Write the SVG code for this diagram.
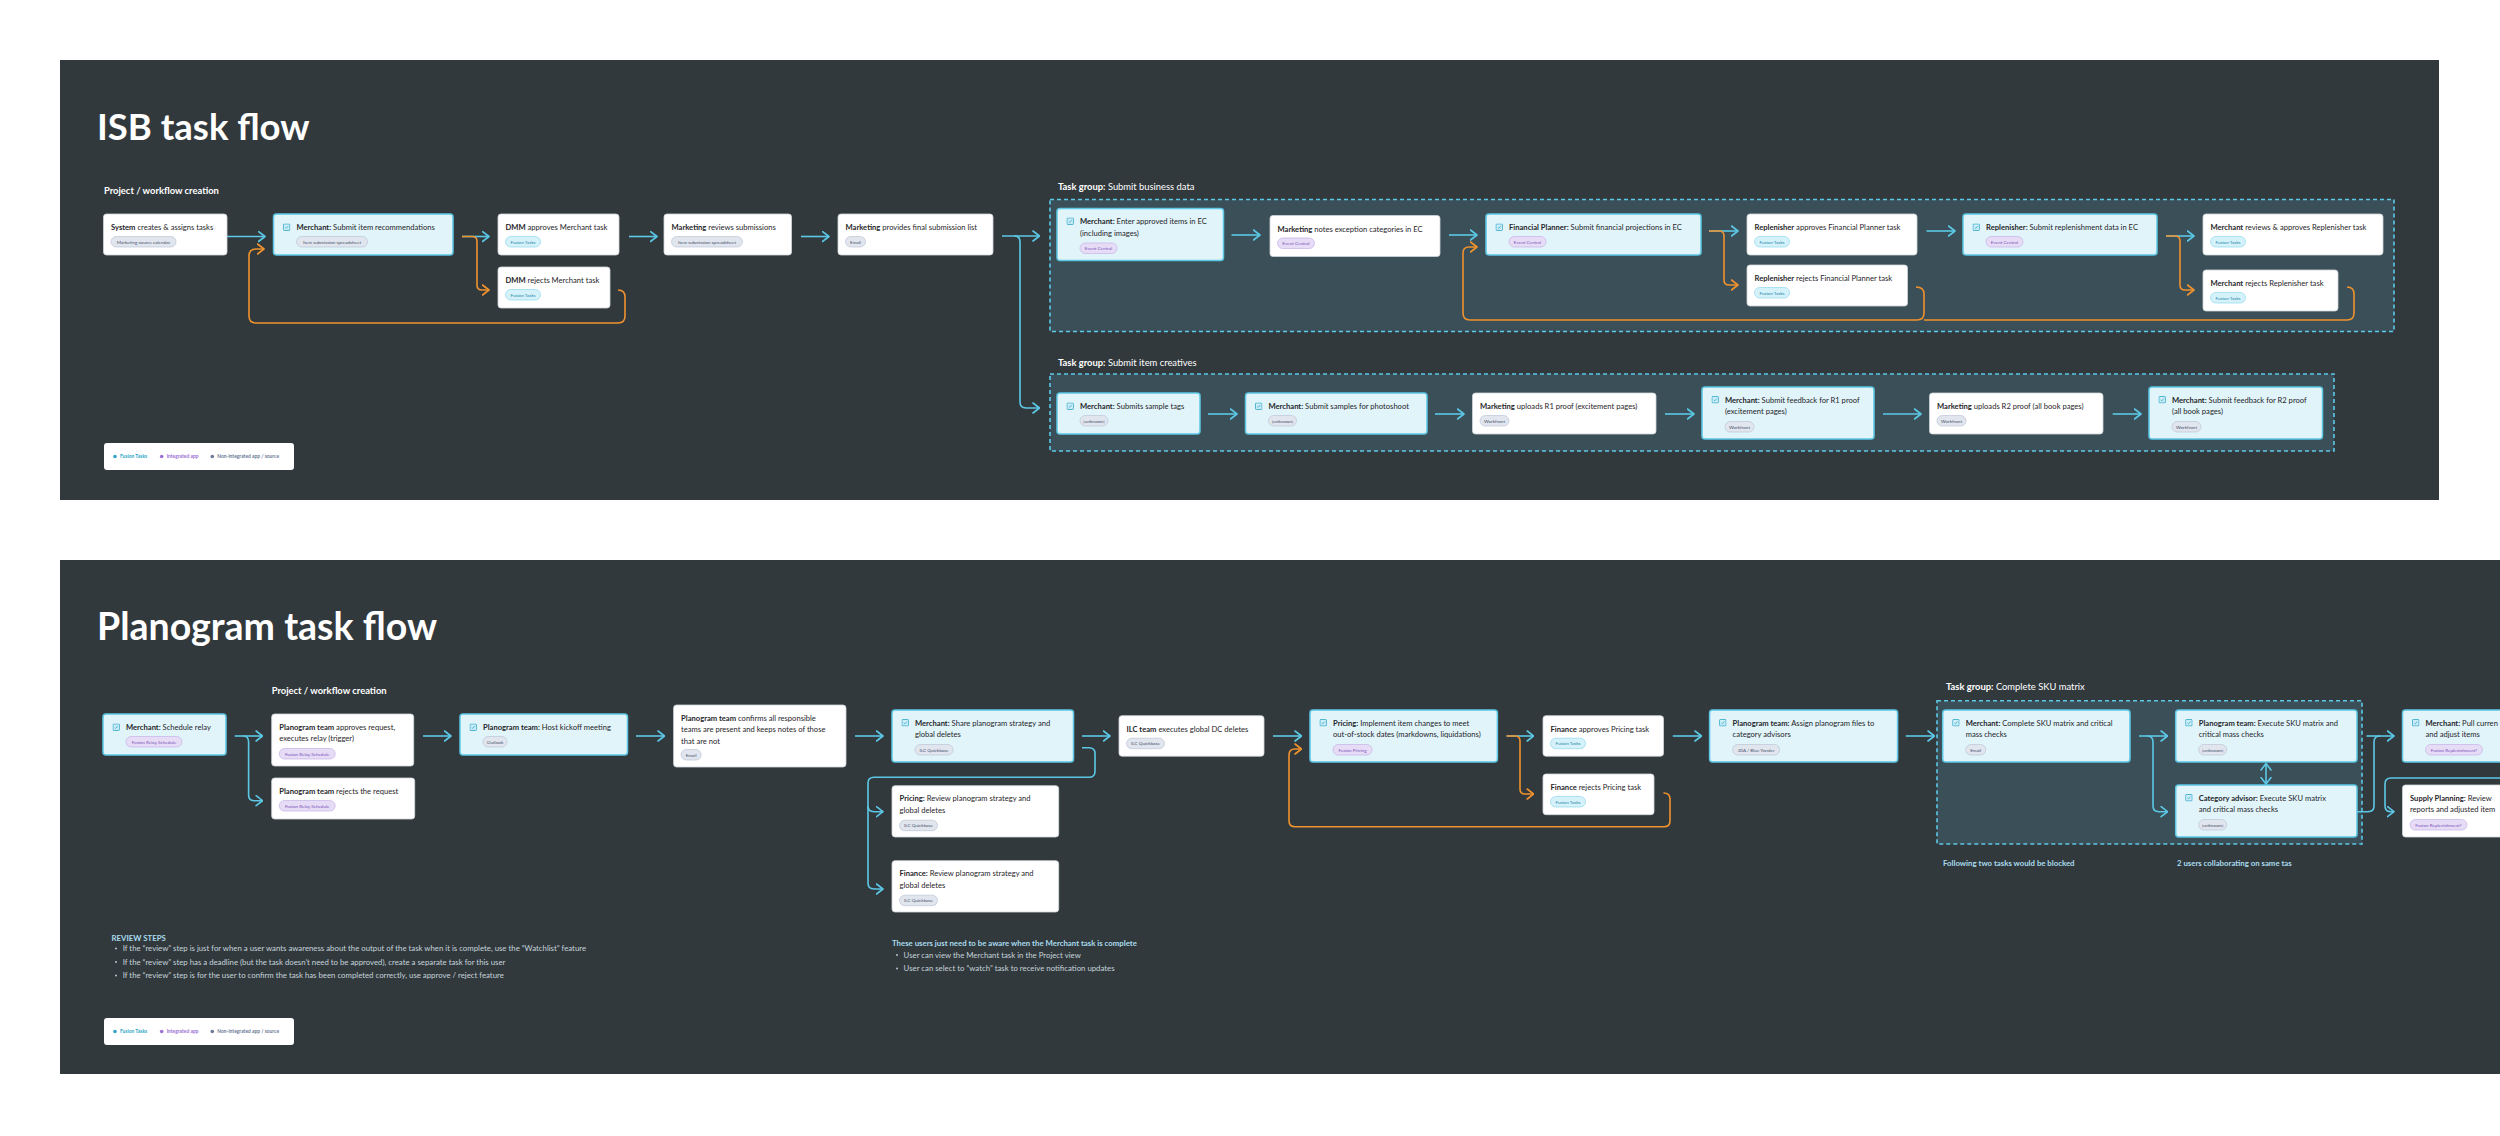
<svg xmlns="http://www.w3.org/2000/svg" xmlns:xlink="http://www.w3.org/1999/xlink" width="2500" height="1136" viewBox="0 0 2500 1136">
<style>
.panel{fill:#32393d}
.grp{fill:#3a4f57;stroke:#5cc8e6;stroke-width:1.6;stroke-dasharray:4 3}
.nw{fill:#ffffff;stroke:#cfd6da;stroke-width:0.8}
.nh{fill:#e1f4fa;stroke:#5cc8e6;stroke-width:1.5}
text{font-family:Lato,"Liberation Sans",sans-serif}
.t{font-size:7.6px;fill:#1f2529}
.b{font-weight:700}
.ttl{font-size:36.5px;font-weight:700;fill:#ffffff}
.ttl2{font-size:37.5px;font-weight:700;fill:#ffffff}
.lbl{font-size:9.4px;fill:#ffffff}
.tg text{font-size:4.6px;text-anchor:middle}
.tF rect{fill:#d5f1fa;stroke:#8fd8ec;stroke-width:0.7}
.tF text{fill:#2689a8}
.tI rect{fill:#e6dcf5;stroke:#c5b1e6;stroke-width:0.7}
.tI text{fill:#7a52bb}
.tN rect{fill:#e1e5ee;stroke:#bcc4d6;stroke-width:0.7}
.tN text{fill:#46516d}
.c{fill:none;stroke:#5cc8e6;stroke-width:1.6;stroke-linejoin:round}
.o{fill:none;stroke:#f0922e;stroke-width:1.6;stroke-linejoin:round}
.note{font-size:7.8px;fill:#c4d3da}
.noteh{font-size:7.8px;font-weight:700;fill:#a9dcee}
.lg text{font-size:4.9px;font-weight:700}
</style>
<defs>
<marker id="ac" viewBox="0 0 8 12" refX="7.5" refY="6" markerWidth="8" markerHeight="12" markerUnits="userSpaceOnUse" orient="auto-start-reverse"><path d="M1,1 L7.5,6 L1,11" fill="none" stroke="#5cc8e6" stroke-width="1.6" stroke-linecap="round" stroke-linejoin="round"/></marker>
<marker id="ao" viewBox="0 0 8 12" refX="7.5" refY="6" markerWidth="8" markerHeight="12" markerUnits="userSpaceOnUse" orient="auto"><path d="M1,1 L7.5,6 L1,11" fill="none" stroke="#f0922e" stroke-width="1.6" stroke-linecap="round" stroke-linejoin="round"/></marker>
<symbol id="chk" viewBox="0 0 8 8" width="7.4" height="7.4"><rect x="0.5" y="0.5" width="7" height="7" rx="0.8" fill="#cdeef8" stroke="#2ea6c8" stroke-width="0.9"/><path d="M2.4,4.2 L3.6,5.3 L5.7,2.7" fill="none" stroke="#2ea6c8" stroke-width="0.8"/></symbol>
</defs>
<rect width="2500" height="1136" fill="#ffffff"/>

<!-- ===== ISB panel ===== -->
<rect class="panel" x="60" y="60" width="2379" height="440"/>
<text class="ttl" x="97" y="140">ISB task flow</text>
<text class="lbl b" x="104" y="194">Project / workflow creation</text>
<rect class="grp" x="1050" y="199.5" width="1344" height="132"/>
<text class="lbl" x="1058" y="190"><tspan class="b">Task group:</tspan> Submit business data</text>
<rect class="grp" x="1050" y="374" width="1284" height="77"/>
<text class="lbl" x="1058" y="366"><tspan class="b">Task group:</tspan> Submit item creatives</text>

<g id="connectors-isb">
<path class="c" d="M227,236.5 H265" marker-end="url(#ac)"/>
<path class="c" d="M462,236.5 H489" marker-end="url(#ac)"/>
<path class="o" d="M462,236.5 H472 Q477,236.5 477,241.5 V285 Q477,290 482,290 H489" marker-end="url(#ao)"/>
<path class="o" d="M618,290 Q625,290 625,297 V316 Q625,323 618,323 H256 Q249,323 249,316 V256 Q249,249 256,249 H264" marker-end="url(#ao)"/>
<path class="c" d="M629,236.5 H657" marker-end="url(#ac)"/>
<path class="c" d="M801,236.5 H829" marker-end="url(#ac)"/>
<path class="c" d="M1002,236 H1039.5" marker-end="url(#ac)"/>
<path class="c" d="M1014,236 Q1020,236 1020,242 V402 Q1020,408 1026,408 H1039.5" marker-end="url(#ac)"/>
<path class="c" d="M1231.5,235 H1260" marker-end="url(#ac)"/>
<path class="c" d="M1449,235 H1477" marker-end="url(#ac)"/>
<path class="c" d="M1709,231 H1738" marker-end="url(#ac)"/>
<path class="o" d="M1709,231 H1719 Q1724,231 1724,236 V280 Q1724,285 1729,285 H1738" marker-end="url(#ao)"/>
<path class="o" d="M1916,287 Q1924,287 1924,294 V313 Q1924,320 1917,320 H1470 Q1463,320 1463,313 V253 Q1463,247 1469,247 H1477" marker-end="url(#ao)"/>
<path class="o" d="M2347,287 Q2354,287 2354,294 V313 Q2354,320 2347,320 H1924"/>
<path class="c" d="M1926.5,231 H1955" marker-end="url(#ac)"/>
<path class="c" d="M2166,236 H2194" marker-end="url(#ac)"/>
<path class="o" d="M2166,236 H2175 Q2180,236 2180,241 V285 Q2180,290 2185,290 H2194" marker-end="url(#ao)"/>
<path class="c" d="M1208,414 H1237" marker-end="url(#ac)"/>
<path class="c" d="M1435,414 H1464" marker-end="url(#ac)"/>
<path class="c" d="M1665,414 H1694" marker-end="url(#ac)"/>
<path class="c" d="M1883,414 H1921" marker-end="url(#ac)"/>
<path class="c" d="M2112.7,414 H2141" marker-end="url(#ac)"/>
</g>

<g id="n1" transform="translate(103.5,214)"><rect class="nw" width="123.5" height="41" rx="3"/><text class="t" x="7.5" y="16"><tspan class="b">System</tspan> creates &amp; assigns tasks</text><g class="tg tN" transform="translate(7.5,22.5)"><rect width="65" height="10.5" rx="5.25"/><text x="32.5" y="7">Marketing source calendar</text></g></g>
<g id="n2" transform="translate(273.5,214)"><rect class="nh" width="179.5" height="41" rx="3"/><use href="#chk" x="9.5" y="9.5"/><text class="t" x="23" y="16"><tspan class="b">Merchant:</tspan> Submit item recommendations</text><g class="tg tN" transform="translate(23,22.5)"><rect width="71" height="10.5" rx="5.25"/><text x="35.5" y="7">Item submission spreadsheet</text></g></g>
<g id="n3" transform="translate(498,214)"><rect class="nw" width="121" height="41" rx="3"/><text class="t" x="7.5" y="16"><tspan class="b">DMM</tspan> approves Merchant task</text><g class="tg tF" transform="translate(7.5,22.5)"><rect width="35" height="10.5" rx="5.25"/><text x="17.5" y="7">Fusion Tasks</text></g></g>
<g id="n4" transform="translate(498,267)"><rect class="nw" width="112" height="41" rx="3"/><text class="t" x="7.5" y="16"><tspan class="b">DMM</tspan> rejects Merchant task</text><g class="tg tF" transform="translate(7.5,22.5)"><rect width="35" height="10.5" rx="5.25"/><text x="17.5" y="7">Fusion Tasks</text></g></g>
<g id="n5" transform="translate(664,214)"><rect class="nw" width="127.5" height="41" rx="3"/><text class="t" x="7.5" y="16"><tspan class="b">Marketing</tspan> reviews submissions</text><g class="tg tN" transform="translate(7.5,22.5)"><rect width="71" height="10.5" rx="5.25"/><text x="35.5" y="7">Item submission spreadsheet</text></g></g>
<g id="n6" transform="translate(838,214)"><rect class="nw" width="155" height="41" rx="3"/><text class="t" x="7.5" y="16"><tspan class="b">Marketing</tspan> provides final submission list</text><g class="tg tN" transform="translate(7.5,22.5)"><rect width="20" height="10.5" rx="5.25"/><text x="10" y="7">Email</text></g></g>
<g id="n7" transform="translate(1057,208.5)"><rect class="nh" width="166.5" height="52" rx="3"/><use href="#chk" x="9.5" y="9"/><text class="t" x="23" y="15.5"><tspan class="b">Merchant:</tspan> Enter approved items in EC</text><text class="t" x="23" y="27">(including images)</text><g class="tg tI" transform="translate(23,34.5)"><rect width="37" height="10.5" rx="5.25"/><text x="18.5" y="7">Event Central</text></g></g>
<g id="n8" transform="translate(1270,215.5)"><rect class="nw" width="170" height="41" rx="3"/><text class="t" x="7.5" y="16"><tspan class="b">Marketing</tspan> notes exception categories in EC</text><g class="tg tI" transform="translate(7.5,22.5)"><rect width="37" height="10.5" rx="5.25"/><text x="18.5" y="7">Event Central</text></g></g>
<g id="n9" transform="translate(1486,214)"><rect class="nh" width="215" height="41" rx="3"/><use href="#chk" x="9.5" y="9.5"/><text class="t" x="23" y="16"><tspan class="b">Financial Planner:</tspan> Submit financial projections in EC</text><g class="tg tI" transform="translate(23,22.5)"><rect width="37" height="10.5" rx="5.25"/><text x="18.5" y="7">Event Central</text></g></g>
<g id="n10" transform="translate(1747,214)"><rect class="nw" width="170" height="41" rx="3"/><text class="t" x="7.5" y="16"><tspan class="b">Replenisher</tspan> approves Financial Planner task</text><g class="tg tF" transform="translate(7.5,22.5)"><rect width="35" height="10.5" rx="5.25"/><text x="17.5" y="7">Fusion Tasks</text></g></g>
<g id="n11" transform="translate(1747,265)"><rect class="nw" width="160.5" height="41" rx="3"/><text class="t" x="7.5" y="16"><tspan class="b">Replenisher</tspan> rejects Financial Planner task</text><g class="tg tF" transform="translate(7.5,22.5)"><rect width="35" height="10.5" rx="5.25"/><text x="17.5" y="7">Fusion Tasks</text></g></g>
<g id="n12" transform="translate(1963,214)"><rect class="nh" width="194" height="41" rx="3"/><use href="#chk" x="9.5" y="9.5"/><text class="t" x="23" y="16"><tspan class="b">Replenisher:</tspan> Submit replenishment data in EC</text><g class="tg tI" transform="translate(23,22.5)"><rect width="37" height="10.5" rx="5.25"/><text x="18.5" y="7">Event Central</text></g></g>
<g id="n13" transform="translate(2203,214)"><rect class="nw" width="180" height="41" rx="3"/><text class="t" x="7.5" y="16"><tspan class="b">Merchant</tspan> reviews &amp; approves Replenisher task</text><g class="tg tF" transform="translate(7.5,22.5)"><rect width="35" height="10.5" rx="5.25"/><text x="17.5" y="7">Fusion Tasks</text></g></g>
<g id="n14" transform="translate(2203,270)"><rect class="nw" width="135" height="41" rx="3"/><text class="t" x="7.5" y="16"><tspan class="b">Merchant</tspan> rejects Replenisher task</text><g class="tg tF" transform="translate(7.5,22.5)"><rect width="35" height="10.5" rx="5.25"/><text x="17.5" y="7">Fusion Tasks</text></g></g>
<g id="n15" transform="translate(1057,393)"><rect class="nh" width="143" height="41" rx="3"/><use href="#chk" x="9.5" y="9.5"/><text class="t" x="23" y="16"><tspan class="b">Merchant:</tspan> Submits sample tags</text><g class="tg tN" transform="translate(23,22.5)"><rect width="28" height="10.5" rx="5.25"/><text x="14" y="7">[unknown]</text></g></g>
<g id="n16" transform="translate(1245.5,393)"><rect class="nh" width="181.5" height="41" rx="3"/><use href="#chk" x="9.5" y="9.5"/><text class="t" x="23" y="16"><tspan class="b">Merchant:</tspan> Submit samples for photoshoot</text><g class="tg tN" transform="translate(23,22.5)"><rect width="28" height="10.5" rx="5.25"/><text x="14" y="7">[unknown]</text></g></g>
<g id="n17" transform="translate(1472.5,393)"><rect class="nw" width="183.5" height="41" rx="3"/><text class="t" x="7.5" y="16"><tspan class="b">Marketing</tspan> uploads R1 proof (excitement pages)</text><g class="tg tN" transform="translate(7.5,22.5)"><rect width="29" height="10.5" rx="5.25"/><text x="14.5" y="7">Workfront</text></g></g>
<g id="n18" transform="translate(1702,387)"><rect class="nh" width="172" height="52" rx="3"/><use href="#chk" x="9.5" y="9"/><text class="t" x="23" y="15.5"><tspan class="b">Merchant:</tspan> Submit feedback for R1 proof</text><text class="t" x="23" y="27">(excitement pages)</text><g class="tg tN" transform="translate(23,34.5)"><rect width="29" height="10.5" rx="5.25"/><text x="14.5" y="7">Workfront</text></g></g>
<g id="n19" transform="translate(1929.5,393)"><rect class="nw" width="173.5" height="41" rx="3"/><text class="t" x="7.5" y="16"><tspan class="b">Marketing</tspan> uploads R2 proof (all book pages)</text><g class="tg tN" transform="translate(7.5,22.5)"><rect width="29" height="10.5" rx="5.25"/><text x="14.5" y="7">Workfront</text></g></g>
<g id="n20" transform="translate(2149,387)"><rect class="nh" width="173.5" height="52" rx="3"/><use href="#chk" x="9.5" y="9"/><text class="t" x="23" y="15.5"><tspan class="b">Merchant:</tspan> Submit feedback for R2 proof</text><text class="t" x="23" y="27">(all book pages)</text><g class="tg tN" transform="translate(23,34.5)"><rect width="29" height="10.5" rx="5.25"/><text x="14.5" y="7">Workfront</text></g></g>

<g id="legend1" class="lg" transform="translate(104,443)"><rect width="190" height="27" rx="3" fill="#ffffff"/><circle cx="11" cy="13.5" r="1.8" fill="#2ea6c8"/><text x="16" y="15.3" fill="#2ea6c8">Fusion Tasks</text><circle cx="57.7" cy="13.5" r="1.8" fill="#9b6fd6"/><text x="62.7" y="15.3" fill="#9b6fd6">Integrated app</text><circle cx="108.3" cy="13.5" r="1.8" fill="#6b7896"/><text x="113.3" y="15.3" fill="#6b7896">Non-integrated app / source</text></g>

<!-- ===== Planogram panel ===== -->
<rect class="panel" x="60" y="560" width="2440" height="514"/>
<text class="ttl2" x="97" y="640">Planogram task flow</text>
<text class="lbl b" x="271.7" y="694">Project / workflow creation</text>
<rect class="grp" x="1937" y="700.7" width="425" height="143.3"/>
<text class="lbl" x="1946" y="690"><tspan class="b">Task group:</tspan> Complete SKU matrix</text>

<g id="connectors-planogram">
<path class="c" d="M234.7,736 H262.6" marker-end="url(#ac)"/>
<path class="c" d="M243,736 Q248.6,736 248.6,742 V795 Q248.6,800.7 254,800.7 H262.6" marker-end="url(#ac)"/>
<path class="c" d="M423,736 H451" marker-end="url(#ac)"/>
<path class="c" d="M636,736 H664.5" marker-end="url(#ac)"/>
<path class="c" d="M855,736 H883" marker-end="url(#ac)"/>
<path class="c" d="M1082,736 H1110" marker-end="url(#ac)"/>
<path class="c" d="M1082,747.7 H1089 Q1095,747.7 1095,753.5 V771.5 Q1095,777.3 1089,777.3 H874 Q868,777.3 868,783 V883 Q868,889 874,889 H883" marker-end="url(#ac)"/>
<path class="c" d="M868,806 Q868,811.7 874,811.7 H883" marker-end="url(#ac)"/>
<path class="c" d="M1273,736 H1301.5" marker-end="url(#ac)"/>
<path class="c" d="M1506.6,736 H1533.7" marker-end="url(#ac)"/>
<path class="o" d="M1506.6,736 H1515 Q1520,736 1520,741 V789 Q1520,794 1525,794 H1533.7" marker-end="url(#ao)"/>
<path class="o" d="M1663.5,793 Q1670,793 1670,799 V820.7 Q1670,826.7 1664,826.7 H1295 Q1289,826.7 1289,820.7 V755 Q1289,749 1295,749 H1301.5" marker-end="url(#ao)"/>
<path class="c" d="M1672.8,736 H1701.5" marker-end="url(#ac)"/>
<path class="c" d="M1905.8,736 H1934.5" marker-end="url(#ac)"/>
<path class="c" d="M2139,736 H2167.6" marker-end="url(#ac)"/>
<path class="c" d="M2147,736 Q2153,736 2153,742 V806 Q2153,811.7 2159,811.7 H2167.6" marker-end="url(#ac)"/>
<path class="c" d="M2266,763.5 V784" marker-start="url(#ac)" marker-end="url(#ac)"/>
<path class="c" d="M2366.5,736 H2394" marker-end="url(#ac)"/>
<path class="c" d="M2357,811.7 H2368 Q2374,811.7 2374,806 V742 Q2374,736 2380,736"/>
<path class="c" d="M2500,778 H2391 Q2385,778 2385,784 V805.7 Q2385,811.7 2391,811.7 H2394" marker-end="url(#ac)"/>
</g>

<g id="m1" transform="translate(103,714)"><rect class="nh" width="123" height="41" rx="3"/><use href="#chk" x="9.5" y="9.5"/><text class="t" x="23" y="16"><tspan class="b">Merchant:</tspan> Schedule relay</text><g class="tg tI" transform="translate(23,22.5)"><rect width="56" height="10.5" rx="5.25"/><text x="28" y="7">Fusion Relay Schedule</text></g></g>
<g id="m2" transform="translate(271.7,714)"><rect class="nw" width="142" height="52" rx="3"/><text class="t" x="7.5" y="15.5"><tspan class="b">Planogram team</tspan> approves request,</text><text class="t" x="7.5" y="27">executes relay (trigger)</text><g class="tg tI" transform="translate(7.5,34.5)"><rect width="56" height="10.5" rx="5.25"/><text x="28" y="7">Fusion Relay Schedule</text></g></g>
<g id="m3" transform="translate(271.7,778)"><rect class="nw" width="143" height="41" rx="3"/><text class="t" x="7.5" y="16"><tspan class="b">Planogram team</tspan> rejects the request</text><g class="tg tI" transform="translate(7.5,22.5)"><rect width="56" height="10.5" rx="5.25"/><text x="28" y="7">Fusion Relay Schedule</text></g></g>
<g id="m4" transform="translate(460,714)"><rect class="nh" width="167.5" height="41" rx="3"/><use href="#chk" x="9.5" y="9.5"/><text class="t" x="23" y="16"><tspan class="b">Planogram team:</tspan> Host kickoff meeting</text><g class="tg tN" transform="translate(23,22.5)"><rect width="24" height="10.5" rx="5.25"/><text x="12" y="7">Outlook</text></g></g>
<g id="m5" transform="translate(673.6,705)"><rect class="nw" width="172.4" height="62" rx="3"/><text class="t" x="7.5" y="15.5"><tspan class="b">Planogram team</tspan> confirms all responsible</text><text class="t" x="7.5" y="27">teams are present and keeps notes of those</text><text class="t" x="7.5" y="38.5">that are not</text><g class="tg tN" transform="translate(7.5,44.5)"><rect width="20" height="10.5" rx="5.25"/><text x="10" y="7">Email</text></g></g>
<g id="m6" transform="translate(892,710)"><rect class="nh" width="181.5" height="52" rx="3"/><use href="#chk" x="9.5" y="9"/><text class="t" x="23" y="15.5"><tspan class="b">Merchant:</tspan> Share planogram strategy and</text><text class="t" x="23" y="27">global deletes</text><g class="tg tN" transform="translate(23,34.5)"><rect width="38" height="10.5" rx="5.25"/><text x="19" y="7">ILC Quickbase</text></g></g>
<g id="m7" transform="translate(892,785.7)"><rect class="nw" width="166.7" height="51.3" rx="3"/><text class="t" x="7.5" y="15.5"><tspan class="b">Pricing:</tspan> Review planogram strategy and</text><text class="t" x="7.5" y="27">global deletes</text><g class="tg tN" transform="translate(7.5,34.5)"><rect width="38" height="10.5" rx="5.25"/><text x="19" y="7">ILC Quickbase</text></g></g>
<g id="m8" transform="translate(892,860.7)"><rect class="nw" width="166.7" height="51.3" rx="3"/><text class="t" x="7.5" y="15.5"><tspan class="b">Finance:</tspan> Review planogram strategy and</text><text class="t" x="7.5" y="27">global deletes</text><g class="tg tN" transform="translate(7.5,34.5)"><rect width="38" height="10.5" rx="5.25"/><text x="19" y="7">ILC Quickbase</text></g></g>
<g id="m9" transform="translate(1119,715.7)"><rect class="nw" width="145" height="40.5" rx="3"/><text class="t" x="7.5" y="16"><tspan class="b">ILC team</tspan> executes global DC deletes</text><g class="tg tN" transform="translate(7.5,22.5)"><rect width="38" height="10.5" rx="5.25"/><text x="19" y="7">ILC Quickbase</text></g></g>
<g id="m10" transform="translate(1310,710)"><rect class="nh" width="187.4" height="52" rx="3"/><use href="#chk" x="9.5" y="9"/><text class="t" x="23" y="15.5"><tspan class="b">Pricing:</tspan> Implement item changes to meet</text><text class="t" x="23" y="27">out-of-stock dates (markdowns, liquidations)</text><g class="tg tI" transform="translate(23,34.5)"><rect width="39" height="10.5" rx="5.25"/><text x="19.5" y="7">Fusion Pricing</text></g></g>
<g id="m11" transform="translate(1543,715.7)"><rect class="nw" width="120.5" height="40.5" rx="3"/><text class="t" x="7.5" y="16"><tspan class="b">Finance</tspan> approves Pricing task</text><g class="tg tF" transform="translate(7.5,22.5)"><rect width="35" height="10.5" rx="5.25"/><text x="17.5" y="7">Fusion Tasks</text></g></g>
<g id="m12" transform="translate(1543,774)"><rect class="nw" width="111" height="40.7" rx="3"/><text class="t" x="7.5" y="16"><tspan class="b">Finance</tspan> rejects Pricing task</text><g class="tg tF" transform="translate(7.5,22.5)"><rect width="35" height="10.5" rx="5.25"/><text x="17.5" y="7">Fusion Tasks</text></g></g>
<g id="m13" transform="translate(1709.6,710)"><rect class="nh" width="188" height="52" rx="3"/><use href="#chk" x="9.5" y="9"/><text class="t" x="23" y="15.5"><tspan class="b">Planogram team:</tspan> Assign planogram files to</text><text class="t" x="23" y="27">category advisors</text><g class="tg tN" transform="translate(23,34.5)"><rect width="47" height="10.5" rx="5.25"/><text x="23.5" y="7">JDA / Blue Yonder</text></g></g>
<g id="m14" transform="translate(1942.7,710)"><rect class="nh" width="187.3" height="52" rx="3"/><use href="#chk" x="9.5" y="9"/><text class="t" x="23" y="15.5"><tspan class="b">Merchant:</tspan> Complete SKU matrix and critical</text><text class="t" x="23" y="27">mass checks</text><g class="tg tN" transform="translate(23,34.5)"><rect width="20" height="10.5" rx="5.25"/><text x="10" y="7">Email</text></g></g>
<g id="m15" transform="translate(2175.7,710)"><rect class="nh" width="181.3" height="52" rx="3"/><use href="#chk" x="9.5" y="9"/><text class="t" x="23" y="15.5"><tspan class="b">Planogram team:</tspan> Execute SKU matrix and</text><text class="t" x="23" y="27">critical mass checks</text><g class="tg tN" transform="translate(23,34.5)"><rect width="28" height="10.5" rx="5.25"/><text x="14" y="7">[unknown]</text></g></g>
<g id="m16" transform="translate(2175.7,785)"><rect class="nh" width="181.3" height="52" rx="3"/><use href="#chk" x="9.5" y="9"/><text class="t" x="23" y="15.5"><tspan class="b">Category advisor:</tspan> Execute SKU matrix</text><text class="t" x="23" y="27">and critical mass checks</text><g class="tg tN" transform="translate(23,34.5)"><rect width="28" height="10.5" rx="5.25"/><text x="14" y="7">[unknown]</text></g></g>
<g id="m17" transform="translate(2402.5,710)"><rect class="nh" width="200" height="52" rx="3"/><use href="#chk" x="9.5" y="9"/><text class="t" x="23" y="15.5"><tspan class="b">Merchant:</tspan> Pull curren</text><text class="t" x="23" y="27">and adjust items</text><g class="tg tI" transform="translate(23,34.5)"><rect width="57" height="10.5" rx="5.25"/><text x="28.5" y="7">Fusion Replenishment?</text></g></g>
<g id="m18" transform="translate(2402.5,785)"><rect class="nw" width="200" height="52" rx="3"/><text class="t" x="7.5" y="15.5"><tspan class="b">Supply Planning:</tspan> Review</text><text class="t" x="7.5" y="27">reports and adjusted item</text><g class="tg tI" transform="translate(7.5,34.5)"><rect width="57" height="10.5" rx="5.25"/><text x="28.5" y="7">Fusion Replenishment?</text></g></g>

<text class="noteh" x="1943" y="866">Following two tasks would be blocked</text>
<text class="noteh" x="2177" y="866">2 users collaborating on same tas</text>

<g id="aware-note">
<text class="noteh" x="892" y="946">These users just need to be aware when the Merchant task is complete</text>
<circle cx="897" cy="955" r="0.9" fill="#c4d3da"/><text class="note" x="903.6" y="957.5">User can view the Merchant task in the Project view</text>
<circle cx="897" cy="968.5" r="0.9" fill="#c4d3da"/><text class="note" x="903.6" y="971">User can select to “watch” task to receive notification updates</text>
</g>

<g id="review-steps">
<text class="noteh" x="111.5" y="941">REVIEW STEPS</text>
<circle cx="116" cy="948.5" r="0.9" fill="#c4d3da"/><text class="note" x="122.7" y="951">If the “review” step is just for when a user wants awareness about the output of the task when it is complete, use the “Watchlist” feature</text>
<circle cx="116" cy="962" r="0.9" fill="#c4d3da"/><text class="note" x="122.7" y="964.5">If the “review” step has a deadline (but the task doesn’t need to be approved), create a separate task for this user</text>
<circle cx="116" cy="975.5" r="0.9" fill="#c4d3da"/><text class="note" x="122.7" y="978">If the “review” step is for the user to confirm the task has been completed correctly, use approve / reject feature</text>
</g>

<g id="legend2" class="lg" transform="translate(104,1018)"><rect width="190" height="27" rx="3" fill="#ffffff"/><circle cx="11" cy="13.5" r="1.8" fill="#2ea6c8"/><text x="16" y="15.3" fill="#2ea6c8">Fusion Tasks</text><circle cx="57.7" cy="13.5" r="1.8" fill="#9b6fd6"/><text x="62.7" y="15.3" fill="#9b6fd6">Integrated app</text><circle cx="108.3" cy="13.5" r="1.8" fill="#6b7896"/><text x="113.3" y="15.3" fill="#6b7896">Non-integrated app / source</text></g>
</svg>
